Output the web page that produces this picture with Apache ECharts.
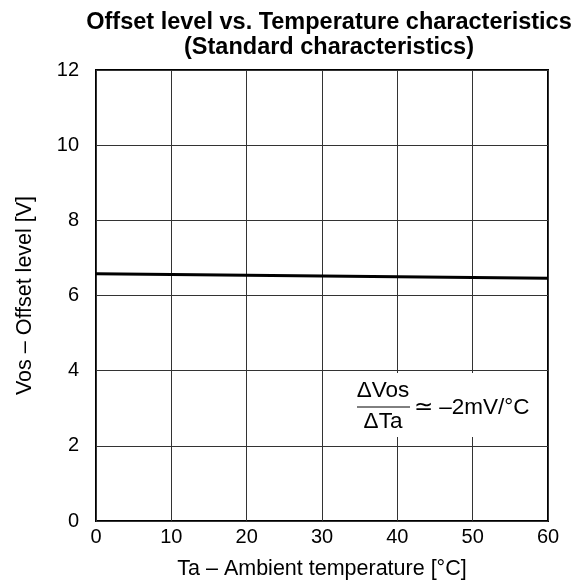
<!DOCTYPE html>
<html><head><meta charset="utf-8">
<script src="https://cdn.jsdelivr.net/npm/echarts@6/dist/echarts.min.js"></script>
<style>html,body{margin:0;padding:0;background:#fff}#c{width:581px;height:585px}</style>
</head><body><div id="c"></div>
<script>
const temperature = [0, 10, 20, 30, 40, 50, 60];
const offsetLevel = [6.58, 6.56, 6.54, 6.52, 6.50, 6.48, 6.46];
const titleText = 'Offset level vs. Temperature characteristics\n(Standard characteristics)';
const xName = 'Ta – Ambient temperature [°C]';
const yName = 'Vos – Offset level [V]';

const chart = echarts.init(document.getElementById('c'));
const F = '"Liberation Sans", Arial, sans-serif';
chart.setOption({
  animation: false,
  title: {
    text: titleText, left: 324, top: 5, textAlign: 'center',
    textStyle: {fontFamily: F, fontSize: 23.5, fontWeight: 'bold', color: '#000', lineHeight: 25}
  },
  grid: {left: 96, right: 33, top: 70, bottom: 63, show: true, borderColor: '#000', borderWidth: 2, backgroundColor: 'transparent'},
  xAxis: {
    type: 'value', min: 0, max: 60, interval: 10,
    name: xName, nameLocation: 'middle', nameGap: 37,
    nameTextStyle: {fontFamily: F, fontSize: 21.5, color: '#000'},
    axisLine: {show: false}, axisTick: {show: false},
    axisLabel: {fontFamily: F, fontSize: 20, color: '#000', margin: 6},
    splitLine: {show: true, lineStyle: {color: '#333', width: 1}}
  },
  yAxis: {
    type: 'value', min: 0, max: 12, interval: 2,
    name: yName, nameLocation: 'middle', nameGap: 60,
    nameTextStyle: {fontFamily: F, fontSize: 21.5, color: '#000'},
    axisLine: {show: false}, axisTick: {show: false},
    axisLabel: {fontFamily: F, fontSize: 20, color: '#000', margin: 17},
    splitLine: {show: true, lineStyle: {color: '#333', width: 1}}
  },
  series: [{
    type: 'line', data: temperature.map((t, i) => [t, offsetLevel[i]]),
    showSymbol: false, lineStyle: {color: '#000', width: 3}
  }],
  graphic: [
    {type: 'rect', shape: {x: 350, y: 373, width: 196, height: 64}, style: {fill: '#fff'}, z: 50},
    {type: 'text', x: 383, y: 391, style: {text: 'ΔVos', font: '22.5px ' + F, fill: '#000', align: 'center', verticalAlign: 'middle'}, z: 51},
    {type: 'line', shape: {x1: 357, y1: 407, x2: 410, y2: 407}, style: {stroke: '#000', lineWidth: 1}, z: 51},
    {type: 'text', x: 383, y: 422, style: {text: 'ΔTa', font: '22.5px ' + F, fill: '#000', align: 'center', verticalAlign: 'middle'}, z: 51},
    {type: 'text', x: 414, y: 408, style: {text: '≃ –2mV/°C', font: '22.5px ' + F, fill: '#000', align: 'left', verticalAlign: 'middle'}, z: 51}
  ]
});
</script></body></html>
